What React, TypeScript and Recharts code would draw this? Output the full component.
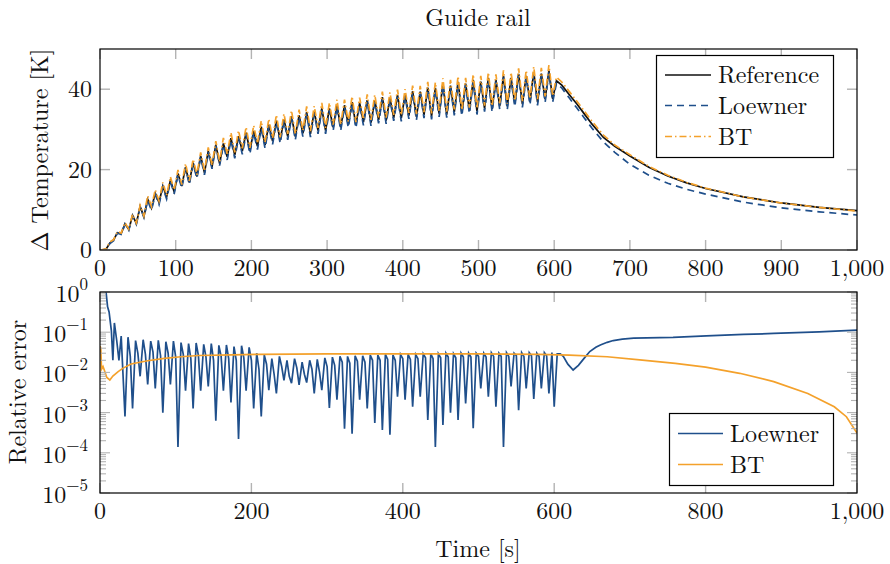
import React from 'react';
import { LineChart, Line, XAxis, YAxis } from 'recharts';

// ---------- data ----------
const time = [0,
  3, 8, 13, 18, 23, 28, 33, 38, 43, 48, 53, 58, 63, 68, 73, 78, 83, 88, 93, 98,
  103, 108, 113, 118, 123, 128, 133, 138, 143, 148, 153, 158, 163, 168, 173, 178, 183, 188, 193, 198,
  203, 208, 213, 218, 223, 228, 233, 238, 243, 248, 253, 258, 263, 268, 273, 278, 283, 288, 293, 298,
  303, 308, 313, 318, 323, 328, 333, 338, 343, 348, 353, 358, 363, 368, 373, 378, 383, 388, 393, 398,
  403, 408, 413, 418, 423, 428, 433, 438, 443, 448, 453, 458, 463, 468, 473, 478, 483, 488, 493, 498,
  503, 508, 513, 518, 523, 528, 533, 538, 543, 548, 553, 558, 563, 568, 573, 578, 583, 588, 593, 598,
  603, 610, 620, 630, 640, 650, 665, 680, 700, 725, 750, 775, 800, 850, 900, 950, 1000];

const reference = [0,
  0.0, 0.2, 1.7, 2.5, 4.3, 4.1, 6.5, 5.1, 8.6, 6.6, 10.8, 8.3, 12.6, 10.4, 14.1, 11.8, 15.9, 13.2, 17.3, 14.5,
  19.0, 15.9, 20.6, 16.8, 21.7, 18.3, 23.4, 19.2, 24.6, 20.7, 26.2, 21.5, 26.5, 23.2, 27.8, 23.6, 28.3, 24.6, 29.2, 24.7,
  29.6, 25.8, 30.7, 26.1, 31.2, 27.1, 32.2, 27.3, 32.5, 28.2, 33.3, 28.2, 33.5, 29.0, 34.3, 28.9, 34.4, 29.7, 35.2, 29.7,
  35.2, 30.5, 36.0, 30.5, 36.0, 31.2, 36.8, 31.1, 36.5, 31.8, 37.3, 31.7, 37.2, 32.3, 38.0, 32.2, 37.8, 32.9, 38.5, 32.8,
  38.6, 33.4, 39.5, 33.1, 39.4, 33.6, 40.4, 33.3, 40.3, 33.9, 41.3, 33.7, 40.9, 34.3, 41.8, 34.1, 41.4, 34.7, 42.3, 34.5,
  41.9, 35.2, 42.8, 35.1, 42.3, 35.8, 43.3, 35.7, 42.8, 36.4, 43.8, 36.3, 43.3, 36.9, 44.2, 36.8, 43.9, 37.5, 44.6, 37.6,
  42.1, 41.0, 38.6, 36.3, 33.8, 31.3, 28.0, 25.8, 23.4, 20.6, 18.4, 16.7, 15.3, 13.2, 11.7, 10.6, 9.8];

const loewner = [0,
  0.0, 0.0, 1.6, 2.3, 4.2, 3.9, 6.4, 4.9, 8.5, 6.4, 10.7, 8.1, 12.3, 9.9, 13.8, 11.3, 15.6, 12.7, 17.0, 14.0,
  18.7, 15.4, 20.3, 16.3, 21.4, 17.8, 23.1, 18.7, 24.3, 20.2, 25.9, 21.0, 26.1, 22.4, 27.4, 22.8, 27.9, 23.8, 28.8, 23.9,
  29.2, 25.0, 30.3, 25.3, 30.8, 26.3, 31.8, 26.5, 32.1, 27.4, 32.9, 27.4, 33.1, 28.2, 33.9, 28.1, 34.0, 28.9, 34.8, 28.9,
  34.8, 29.7, 35.6, 29.7, 35.6, 30.4, 36.4, 30.3, 36.1, 31.0, 36.9, 30.9, 36.8, 31.5, 37.6, 31.4, 37.4, 32.1, 38.1, 32.0,
  38.2, 32.6, 39.1, 32.3, 39.0, 32.8, 40.0, 32.5, 39.9, 33.1, 40.9, 32.9, 40.5, 33.5, 41.4, 33.3, 41.0, 33.9, 41.9, 33.7,
  41.5, 34.4, 42.4, 34.3, 41.9, 35.0, 42.9, 34.9, 42.4, 35.6, 43.4, 35.5, 42.9, 36.1, 43.8, 36.0, 43.5, 36.7, 44.2, 36.8,
  41.5, 40.3, 37.8, 35.3, 32.8, 30.3, 26.9, 24.3, 21.3, 18.6, 16.6, 15.1, 13.9, 11.9, 10.5, 9.5, 8.7];

const bt = [0,
  0.1, 0.3, 2.0, 2.6, 4.6, 4.2, 6.8, 5.2, 8.9, 6.7, 11.1, 8.4, 13.5, 10.8, 15.0, 12.2, 16.8, 13.6, 18.2, 14.9,
  19.9, 16.3, 21.5, 17.2, 22.6, 18.7, 24.3, 19.6, 25.5, 21.1, 27.1, 21.9, 27.9, 23.9, 29.2, 24.3, 29.7, 25.3, 30.6, 25.4,
  31.0, 26.5, 32.1, 26.8, 32.6, 27.8, 33.6, 28.0, 33.9, 28.9, 34.7, 28.9, 34.9, 29.7, 35.7, 29.6, 35.8, 30.4, 36.6, 30.4,
  36.6, 31.2, 37.4, 31.2, 37.4, 31.9, 38.2, 31.8, 37.9, 32.5, 38.7, 32.4, 38.6, 33.0, 39.4, 32.9, 39.2, 33.6, 39.9, 33.5,
  40.0, 34.1, 40.9, 33.8, 40.8, 34.3, 41.8, 34.0, 41.7, 34.6, 42.7, 34.4, 42.3, 35.0, 43.2, 34.8, 42.8, 35.4, 43.7, 35.2,
  43.3, 35.9, 44.2, 35.8, 43.7, 36.5, 44.7, 36.4, 44.2, 37.1, 45.2, 37.0, 44.7, 37.6, 45.6, 37.5, 45.3, 38.2, 46.0, 38.3,
  43.0, 41.8, 39.4, 37.0, 34.5, 32.0, 28.6, 26.1, 23.7, 20.8, 18.6, 16.8, 15.4, 13.2, 11.7, 10.6, 9.7];

const errTimeLoewner = [0, 8, 10, 12, 15, 17, 19, 22, 25, 28,
  33, 37, 40, 43, 47, 50, 53, 57, 60, 63, 67, 70, 73, 77, 80, 83, 87, 90, 93, 97, 100,
  103, 107, 110, 113, 117, 120, 123, 127, 130, 133, 137, 140, 143, 147, 150, 153, 157, 160,
  163, 167, 170, 173, 177, 180, 183, 187, 190, 193, 197, 200,
  203, 207, 210, 213, 217, 220, 223, 227, 230, 233, 237, 240, 243, 247, 250, 253, 257, 260,
  263, 267, 270, 273, 277, 280, 283, 287, 290, 293, 297, 300,
  303, 307, 310, 313, 317, 320, 323, 327, 330, 333, 337, 340, 343, 347, 350, 353, 357, 360,
  363, 367, 370, 373, 377, 380, 383, 387, 390, 393, 397, 400,
  403, 407, 410, 413, 417, 420, 423, 427, 430, 433, 437, 440, 443, 447, 450, 453, 457, 460,
  463, 467, 470, 473, 477, 480, 483, 487, 490, 493, 497, 500,
  503, 507, 510, 513, 517, 520, 523, 527, 530, 533, 537, 540, 543, 547, 550, 553, 557, 560,
  563, 567, 570, 573, 577, 580, 583, 587, 590, 593, 597, 600,
  604, 608, 612, 618, 625, 632, 640, 647, 655, 661, 670, 678, 690, 705, 757, 801, 850, 890, 950, 1000];

const errLoewner = [3, 1.0, 0.43, 0.32, 0.11, 0.02, 0.17, 0.064, 0.02, 0.08,
  0.0008, 0.075, 0.025, 0.00126, 0.062, 0.03, 0.008, 0.065, 0.028, 0.005, 0.06, 0.032,
  0.004, 0.063, 0.026, 0.001, 0.058, 0.03, 0.005, 0.06, 0.024,
  0.00014, 0.055, 0.028, 0.0035, 0.052, 0.022, 0.00126, 0.054, 0.026, 0.0035, 0.05, 0.024,
  0.0045, 0.052, 0.02, 0.00063, 0.047, 0.025,
  0.0035, 0.048, 0.022, 0.0018, 0.044, 0.02, 0.00022, 0.046, 0.023, 0.0035, 0.042, 0.02,
  0.00126, 0.03, 0.012, 0.0008, 0.027, 0.016, 0.0036, 0.022, 0.009, 0.003, 0.025, 0.014,
  0.0063, 0.02, 0.008, 0.0054, 0.022, 0.013,
  0.0049, 0.018, 0.009, 0.0056, 0.02, 0.012, 0.003, 0.021, 0.01, 0.0036, 0.023, 0.014,
  0.0013, 0.024, 0.015, 0.0021, 0.025, 0.018, 0.0004, 0.025, 0.017, 0.0003, 0.026, 0.019,
  0.0021, 0.026, 0.018, 0.00126, 0.027, 0.02,
  0.00055, 0.027, 0.02, 0.00037, 0.028, 0.021, 0.00028, 0.027, 0.02, 0.0025, 0.028, 0.022,
  0.0021, 0.028, 0.021, 0.0014, 0.028, 0.022, 0.0025, 0.029, 0.023, 0.00066, 0.029, 0.022,
  0.00014, 0.029, 0.023, 0.00049, 0.03, 0.024,
  0.001, 0.029, 0.023, 0.00066, 0.03, 0.024, 0.0017, 0.03, 0.024, 0.00041, 0.03, 0.025,
  0.004, 0.03, 0.024, 0.0025, 0.031, 0.025, 0.0014, 0.03, 0.025, 0.00014, 0.031, 0.025,
  0.0045, 0.03, 0.026, 0.00115, 0.031, 0.025,
  0.004, 0.031, 0.026, 0.0022, 0.03, 0.025, 0.004, 0.031, 0.026, 0.003, 0.031, 0.0014,
  0.029, 0.029, 0.025, 0.016, 0.0115, 0.015, 0.023, 0.033, 0.042, 0.048, 0.056, 0.062, 0.067, 0.071,
  0.074, 0.081, 0.088, 0.093, 0.102, 0.112];

const errTimeBT = [0, 1, 2, 4, 6, 9, 13, 17, 24, 30, 41, 63, 85, 107, 130, 175, 210, 300, 400, 500,
  580, 620, 670, 713, 760, 800, 845, 890, 935, 970, 986, 1000];
const errBT = [0.045, 0.04, 0.012, 0.014, 0.011, 0.0075, 0.0065, 0.0081, 0.0105, 0.0126, 0.0162, 0.0195,
  0.0224, 0.0245, 0.0263, 0.0272, 0.0282, 0.0288, 0.029, 0.029, 0.0282, 0.027, 0.0245, 0.0204, 0.0168,
  0.0135, 0.0095, 0.0059, 0.003, 0.0014, 0.00079, 0.00031];

const xTicksTop = [0, 100, 200, 300, 400, 500, 600, 700, 800, 900, 1000];
const xTicksBottom = [0, 200, 400, 600, 800, 1000];
const yTicksTop = [0, 20, 40];
const logMajors = [1e-5, 1e-4, 1e-3, 1e-2, 1e-1, 1];

// ---------- styling ----------
const FONT = '"Latin Modern Roman", "Liberation Serif", serif';
const BLUE = '#1f4f8b';
const ORANGE = '#f4a12b';
const TICKC = '#b3b3b3';
const TXT = '#111';
const W = 890;
const PL = 100;
const PR = 857;
const FS = 24;

const topRows = time.map((t, i) => ({ t, reference: reference[i], loewner: loewner[i], bt: bt[i] }));
const rowsErrL = errTimeLoewner.map((t, i) => ({ t, v: errLoewner[i] }));
const rowsErrB = errTimeBT.map((t, i) => ({ t, v: errBT[i] }));

const minorTicks: number[] = [];
for (let e = -5; e < 0; e++) for (let m = 2; m < 10; m++) minorTicks.push(m * Math.pow(10, e));
const logTicks = [...logMajors, ...minorTicks];

const fmtX = (v: number) => (v >= 1000 ? v.toLocaleString('en-US') : String(v));

const makeXTick = (top: number, bottom: number) => (props: any) => {
  const { x, payload } = props;
  return (
    <g>
      <line x1={x} x2={x} y1={bottom} y2={bottom - 10} stroke={TICKC} strokeWidth={1.4} />
      <line x1={x} x2={x} y1={top} y2={top + 10} stroke={TICKC} strokeWidth={1.4} />
      <text x={x} y={bottom + 26} textAnchor="middle" fontFamily={FONT} fontSize={FS} fill={TXT}>
        {fmtX(payload.value)}
      </text>
    </g>
  );
};

const LinTick = (props: any) => {
  const { y, payload } = props;
  return (
    <g>
      <line x1={PL} x2={PL + 10} y1={y} y2={y} stroke={TICKC} strokeWidth={1.4} />
      <line x1={PR - 10} x2={PR} y1={y} y2={y} stroke={TICKC} strokeWidth={1.4} />
      <text x={PL - 8} y={y + 8} textAnchor="end" fontFamily={FONT} fontSize={FS} fill={TXT}>
        {payload.value}
      </text>
    </g>
  );
};

const LogTick = (props: any) => {
  const { y, payload } = props;
  const lg = Math.log10(payload.value);
  const e = Math.round(lg);
  const major = Math.abs(lg - e) < 1e-6;
  const len = major ? 10 : 6;
  return (
    <g>
      <line x1={PL} x2={PL + len} y1={y} y2={y} stroke={TICKC} strokeWidth={1.1} />
      <line x1={PR - len} x2={PR} y1={y} y2={y} stroke={TICKC} strokeWidth={1.1} />
      {major ? (
        <text x={PL - 12} y={y + 10} textAnchor="end" fontFamily={FONT} fontSize={FS} fill={TXT}>
          10
          <tspan dy={-12} fontSize={17}>{e < 0 ? '\u2212' + Math.abs(e) : String(e)}</tspan>
        </text>
      ) : null}
    </g>
  );
};

export default function App() {
  return (
    <div style={{ position: 'absolute', left: 0, top: 0, width: W, height: 564, background: '#fff' }}>
      <div style={{ position: 'absolute', left: 0, top: 0 }}>
        <LineChart width={W} height={290} data={topRows} margin={{ top: 49, right: W - PR, bottom: 0, left: 0 }}>
          <XAxis dataKey="t" type="number" domain={[0, 1000]} ticks={xTicksTop} interval={0} height={40}
            axisLine={false} tickLine={false} tick={makeXTick(49, 250)} allowDataOverflow />
          <YAxis type="number" domain={[0, 50]} ticks={yTicksTop} interval={0} width={PL}
            axisLine={false} tickLine={false} tick={LinTick} allowDataOverflow />
          <Line type="linear" dataKey="reference" stroke="#111" strokeWidth={1.7} dot={false} isAnimationActive={false} />
          <Line type="linear" dataKey="loewner" stroke={BLUE} strokeWidth={1.7} strokeDasharray="7 5" dot={false} isAnimationActive={false} />
          <Line type="linear" dataKey="bt" stroke={ORANGE} strokeWidth={1.7} strokeDasharray="7 3 1.5 3" dot={false} isAnimationActive={false} />
        </LineChart>
      </div>
      <div style={{ position: 'absolute', left: 0, top: 270 }}>
        <LineChart width={W} height={294} margin={{ top: 22, right: W - PR, bottom: 31, left: 0 }}>
          <XAxis dataKey="t" type="number" domain={[0, 1000]} ticks={xTicksBottom} interval={0} height={40}
            axisLine={false} tickLine={false} tick={makeXTick(22, 223)} allowDataOverflow />
          <YAxis type="number" scale="log" domain={[1e-5, 1]} ticks={logTicks} interval={0} width={PL}
            axisLine={false} tickLine={false} tick={LogTick} allowDataOverflow />
          <Line type="linear" data={rowsErrL} dataKey="v" stroke={BLUE} strokeWidth={1.7} dot={false} isAnimationActive={false} />
          <Line type="linear" data={rowsErrB} dataKey="v" stroke={ORANGE} strokeWidth={1.7} dot={false} isAnimationActive={false} />
        </LineChart>
      </div>
      <svg width={W} height={564} style={{ position: 'absolute', left: 0, top: 0, pointerEvents: 'none' }}>
        <rect x={PL} y={49} width={PR - PL} height={201} fill="none" stroke="#000" strokeWidth={1.2} />
        <rect x={PL} y={292} width={PR - PL} height={201} fill="none" stroke="#000" strokeWidth={1.2} />
        <text x={478} y={26} textAnchor="middle" fontFamily={FONT} fontSize={24} fill={TXT}>Guide rail</text>
        <text transform="translate(48,150) rotate(-90)" textAnchor="middle" fontFamily={FONT} fontSize={24} fill={TXT}>
          {'\u0394 Temperature [K]'}
        </text>
        <text transform="translate(26,392) rotate(-90)" textAnchor="middle" fontFamily={FONT} fontSize={24} fill={TXT}>
          Relative error
        </text>
        <text x={478} y={557} textAnchor="middle" fontFamily={FONT} fontSize={24} fill={TXT}>Time [s]</text>

        <rect x={656.5} y={55.5} width={177} height={102} fill="#fff" stroke="#000" strokeWidth={1.2} />
        <line x1={665} x2={711} y1={75} y2={75} stroke="#111" strokeWidth={1.7} />
        <line x1={665} x2={711} y1={105.5} y2={105.5} stroke={BLUE} strokeWidth={1.7} strokeDasharray="7 5" />
        <line x1={665} x2={711} y1={136.5} y2={136.5} stroke={ORANGE} strokeWidth={1.7} strokeDasharray="7 3 1.5 3" />
        <text x={718} y={83} fontFamily={FONT} fontSize={24} fill={TXT}>Reference</text>
        <text x={718} y={114} fontFamily={FONT} fontSize={24} fill={TXT}>Loewner</text>
        <text x={718} y={145} fontFamily={FONT} fontSize={24} fill={TXT}>BT</text>

        <rect x={669.5} y={413.5} width={164} height={72} fill="#fff" stroke="#000" strokeWidth={1.2} />
        <line x1={678} x2={723} y1={433.5} y2={433.5} stroke={BLUE} strokeWidth={1.7} />
        <line x1={678} x2={723} y1={464.5} y2={464.5} stroke={ORANGE} strokeWidth={1.7} />
        <text x={730} y={442} fontFamily={FONT} fontSize={24} fill={TXT}>Loewner</text>
        <text x={730} y={473} fontFamily={FONT} fontSize={24} fill={TXT}>BT</text>
      </svg>
    </div>
  );
}
